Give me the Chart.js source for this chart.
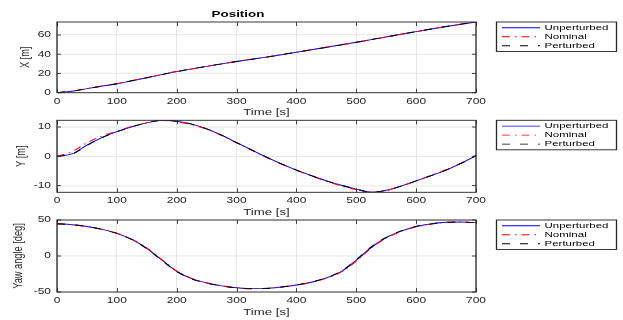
<!DOCTYPE html>
<html>
<head>
<meta charset="utf-8">
<script src="https://cdn.jsdelivr.net/npm/chart.js@4.4.0/dist/chart.umd.min.js"></script>
<style>
  body { margin: 0; background: #fff; overflow: hidden; }
  #wrap { position: absolute; left: 0; top: 0; width: 623px; height: 320px; overflow: hidden; }
  #wrap canvas { position: absolute; left: 0; top: 0; }
</style>
</head>
<body>
<div id="wrap">
  <canvas id="chartX" width="623" height="457"></canvas>
  <canvas id="chartY" width="623" height="457"></canvas>
  <canvas id="chartYaw" width="623" height="457"></canvas>
</div>
<script>
// data
const timeS = [0, 25, 50, 75, 100, 125, 150, 175, 200, 225, 250, 275, 300, 325, 350,
  375, 400, 425, 450, 475, 500, 525, 550, 575, 600, 625, 650, 675, 700];

const xUnperturbed = [0, 1.5, 4.2, 6.8, 9.3, 12.4, 15.6, 18.8, 22.0, 24.8, 27.4, 30.0, 32.4, 34.8, 37.0,
  39.5, 42.0, 44.6, 47.2, 49.8, 52.4, 55.2, 58.0, 60.8, 63.5, 66.2, 68.8, 71.2, 73.5];
const xNominal = [0, 1.6, 4.3, 6.9, 9.4, 12.5, 15.7, 18.9, 22.0, 24.7, 27.3, 29.9, 32.4, 34.8, 37.1,
  39.6, 42.1, 44.7, 47.2, 49.8, 52.3, 55.1, 57.9, 60.7, 63.4, 66.1, 68.8, 71.2, 73.4];
const xPerturbed = [0, 1.5, 4.2, 6.8, 9.3, 12.4, 15.6, 18.8, 21.9, 24.7, 27.4, 30.0, 32.4, 34.7, 37.0,
  39.5, 42.0, 44.6, 47.1, 49.7, 52.4, 55.2, 58.0, 60.8, 63.5, 66.2, 68.8, 71.3, 73.5];

const yUnperturbed = [0, 0.8, 3.8, 6.4, 8.4, 10.1, 11.4, 12.3, 12.0, 11.0, 9.4, 7.2, 4.7, 2.2, -0.3,
  -2.6, -4.7, -6.6, -8.4, -9.9, -11.2, -12.3, -11.6, -10.2, -8.4, -6.6, -4.7, -2.4, 0.2];
const yNominal = [0, 1.6, 4.6, 6.9, 8.6, 10.2, 11.4, 12.2, 11.8, 10.8, 9.3, 7.1, 4.6, 2.1, -0.4,
  -2.7, -4.8, -6.7, -8.5, -10.1, -11.4, -12.3, -11.8, -10.2, -8.4, -6.5, -4.6, -2.3, 0.2];
const yPerturbed = [0, 0.7, 3.7, 6.4, 8.4, 10.1, 11.4, 12.3, 12.0, 11.0, 9.4, 7.2, 4.7, 2.2, -0.3,
  -2.6, -4.7, -6.6, -8.4, -9.9, -11.2, -12.2, -11.6, -10.2, -8.4, -6.6, -4.7, -2.4, 0.2];

const yawUnperturbed = [44.9, 43.5, 41.0, 37.0, 31.5, 23.0, 10.5, -5.5, -21.3, -31.5, -37.5, -41.5, -44.0, -45.3, -45.0,
  -43.0, -40.3, -36.5, -30.4, -21.5, -6.0, 12.0, 25.5, 34.5, 41.0, 44.5, 46.8, 47.2, 46.3];
const yawNominal = [44.9, 43.6, 41.1, 37.2, 31.6, 23.3, 11.0, -5.0, -20.8, -31.0, -37.2, -41.2, -43.8, -45.1, -44.9,
  -43.1, -40.4, -36.7, -30.8, -22.2, -7.0, 11.0, 24.8, 34.0, 40.7, 44.3, 46.6, 47.1, 46.3];
const yawPerturbed = [44.9, 43.4, 40.9, 36.9, 31.3, 22.7, 10.1, -6.0, -21.7, -31.8, -37.7, -41.7, -44.2, -45.4, -45.1,
  -43.0, -40.2, -36.3, -30.1, -21.0, -5.3, 12.6, 25.9, 34.8, 41.2, 44.6, 46.9, 47.2, 46.3];

const xTicks = [0, 100, 200, 300, 400, 500, 600, 700];
const xPosTicks = [0, 20, 40, 60];
const yPosTicks = [-10, 0, 10];
const yawTicks = [-50, 0, 50];

const seriesNames = ['Unperturbed', 'Nominal', 'Perturbed'];

// the reference is squashed vertically: charts are laid out 457 tall and drawn squashed into 320
const CH = 457;
const SY = 320 / CH;
const cy = v => v / SY;
const FONT = '"Liberation Sans", Arial, Helvetica, sans-serif';
const DARK = '#262626';

const squashPlugin = {
    id: 'squash',
    beforeDraw(chart) {
        chart.ctx.save();
        chart.ctx.setTransform(1, 0, 0, SY, 0, 0);
    },
    afterDraw(chart) {
        chart.ctx.restore();
    }
};

const framePlugin = {
    id: 'frame',
    afterDatasetsDraw(chart) {
        const { ctx, chartArea: a, scales } = chart;
        ctx.save();
        ctx.strokeStyle = DARK;
        ctx.lineWidth = 1;
        ctx.beginPath();
        scales.x.ticks.forEach(t => {
            const px = Math.round(scales.x.getPixelForValue(t.value)) + 0.5;
            ctx.moveTo(px, a.bottom); ctx.lineTo(px, a.bottom - cy(4));
            ctx.moveTo(px, a.top); ctx.lineTo(px, a.top + cy(4));
        });
        scales.y.ticks.forEach(t => {
            const py = scales.y.getPixelForValue(t.value);
            ctx.moveTo(a.left, py); ctx.lineTo(a.left + 4, py);
            ctx.moveTo(a.right, py); ctx.lineTo(a.right - 4, py);
        });
        ctx.stroke();
        ctx.lineWidth = 1.3;
        ctx.strokeRect(a.left, a.top, a.right - a.left, a.bottom - a.top);
        ctx.restore();
    }
};

const legendPlugin = {
    id: 'boxLegend',
    afterDraw(chart) {
        const { ctx, chartArea: a } = chart;
        const x0 = 496.5, w = 120, top = a.top, h = cy(29.5);
        ctx.save();
        ctx.fillStyle = '#fff';
        ctx.fillRect(x0, top, w, h);
        ctx.strokeStyle = DARK;
        ctx.lineWidth = 1.3;
        ctx.strokeRect(x0, top, w, h);
        ctx.font = '11.5px ' + FONT;
        ctx.textBaseline = 'middle';
        chart.data.datasets.forEach((ds, i) => {
            const y = top + cy(5.8 + i * 9);
            ctx.strokeStyle = ds.borderColor;
            ctx.lineWidth = 1.3;
            ctx.setLineDash(ds.borderDash || []);
            ctx.beginPath();
            ctx.moveTo(502, y);
            ctx.lineTo(540, y);
            ctx.stroke();
            ctx.setLineDash([]);
            ctx.fillStyle = '#000';
            ctx.fillText(ds.label, 544.5, y);
        });
        ctx.restore();
    }
};

function pts(vals) {
    return timeS.map((t, i) => ({ x: t, y: vals[i] }));
}

function makeChart(id, opt) {
    const plotTop = cy(opt.top);
    const plotBottom = cy(opt.bottom);
    const xAxisH = cy(20) + 13.2 * 1.2 / 2;
    const title = opt.title
        ? { display: true, text: opt.title, color: '#000',
            font: { family: FONT, size: 13.4, weight: 'bold' },
            padding: { top: cy(14) - 8.04, bottom: plotTop - cy(14) - 8.04 } }
        : { display: false };

    return new Chart(document.getElementById(id), {
        type: 'line',
        data: {
            datasets: [
                { label: seriesNames[0], data: pts(opt.series[0]), borderColor: '#0000ff', order: 2 },
                { label: seriesNames[1], data: pts(opt.series[1]), borderColor: '#ff0000', borderDash: [8, 5, 1.5, 5], order: 1 },
                { label: seriesNames[2], data: pts(opt.series[2]), borderColor: '#000000', borderDash: [8, 10], order: 0 }
            ]
        },
        options: {
            responsive: false,
            animation: false,
            devicePixelRatio: 1,
            layout: {
                padding: { left: 0, right: 147, top: opt.title ? 0 : plotTop, bottom: CH - plotBottom - xAxisH }
            },
            elements: {
                point: { radius: 0 },
                line: { borderWidth: 1.3, cubicInterpolationMode: 'monotone', fill: false }
            },
            plugins: {
                legend: { display: false },
                tooltip: { enabled: false },
                title: title
            },
            scales: {
                x: {
                    type: 'linear',
                    min: 0,
                    max: 700,
                    afterBuildTicks: s => { s.ticks = xTicks.map(v => ({ value: v })); },
                    afterFit: s => { s.height = xAxisH; },
                    grid: { color: '#e3e3e3', drawTicks: false },
                    border: { display: false },
                    ticks: { autoSkip: false, maxRotation: 0, padding: 5, color: DARK, font: { family: FONT, size: 12 } },
                    title: { display: true, text: 'Time [s]', padding: 0, color: DARK, font: { family: FONT, size: 13.2 } }
                },
                y: {
                    min: opt.min,
                    max: opt.max,
                    afterBuildTicks: s => { s.ticks = opt.ticks.map(v => ({ value: v })); },
                    afterFit: s => { s.width = 57; },
                    grid: { color: '#e3e3e3', drawTicks: false },
                    border: { display: false },
                    ticks: { padding: 6, color: DARK, font: { family: FONT, size: 12 } },
                    title: { display: true, text: opt.label, padding: { top: opt.labelX - 7.92, bottom: 0 }, color: DARK, font: { family: FONT, size: 13.2 } }
                }
            }
        },
        plugins: [framePlugin, legendPlugin, squashPlugin]
    });
}

makeChart('chartX', {
    title: 'Position', label: 'X [m]', labelX: 25,
    top: 22, bottom: 92.7, min: 0, max: 73.5, ticks: xPosTicks,
    series: [xUnperturbed, xNominal, xPerturbed]
});
makeChart('chartY', {
    label: 'Y [m]', labelX: 21,
    top: 120.3, bottom: 192.3, min: -12.3, max: 12.3, ticks: yPosTicks,
    series: [yUnperturbed, yNominal, yPerturbed]
});
makeChart('chartYaw', {
    label: 'Yaw angle [deg]', labelX: 18,
    top: 220, bottom: 292, min: -50, max: 50, ticks: yawTicks,
    series: [yawUnperturbed, yawNominal, yawPerturbed]
});
</script>
</body>
</html>
